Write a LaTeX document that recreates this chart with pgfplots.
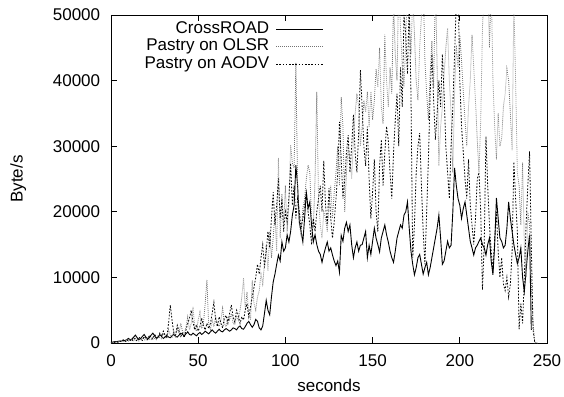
\documentclass[border=0pt]{standalone}
\usepackage{fontspec}
\setmainfont{Liberation Sans}
\usepackage{pgfplots}
\pgfplotsset{compat=1.18}
\pgfplotsset{mylegimg/.style={legend image code/.code={\draw[##1] (0pt,0pt) -- (47pt,0pt);}}}
\begin{document}
\fontsize{17}{20}\selectfont
\begin{tikzpicture}
\useasboundingbox (-111pt,-53pt) rectangle (453pt,343pt);
\begin{axis}[
  at={(0pt,0pt)}, anchor=south west,
  scale only axis, width=436pt, height=328pt,
  xmin=0, xmax=250, ymin=0, ymax=50000,
  xtick={0,50,...,250}, ytick={0,10000,...,50000},
  tick pos=both, tick align=inside, major tick length=6pt,
  axis line style={line width=0.9pt}, tick style={line width=0.9pt,black},
  /pgf/number format/assume math mode=true,
  /pgf/number format/1000 sep={},
  scaled y ticks=false,
  xticklabel style={yshift=-6pt},
  yticklabel style={xshift=-5pt},
  xlabel={seconds}, ylabel={Byte/s},
  xlabel style={at={(axis description cs:0.5,-0.128)}, anchor=center},
  ylabel style={at={(axis description cs:-0.213,0.5)}, anchor=center},
  legend plot pos=right, legend cell align=right,
  legend style={at={(axis description cs:0.495,0.99)}, anchor=north east, draw=none, fill=none,
    font=\fontsize{17}{20}\selectfont,
    nodes={inner sep=0.5pt, text height=12.5pt, text depth=4pt}, row sep=0pt, column sep=6pt},
]
\addplot[black, line width=0.9pt, mylegimg] table[row sep=\\] {t v\\
0 100\\1 150\\2 200\\3 200\\4 250\\5 300\\6 300\\7 350\\8 400\\9 500\\10 700\\11 500\\12 600\\13 900\\14 1200\\15 800\\16 500\\17 700\\18 1000\\19 1300\\
20 900\\21 600\\22 800\\23 1200\\24 1500\\25 1100\\26 700\\27 900\\28 1300\\29 1000\\30 700\\31 900\\32 1200\\33 900\\34 800\\35 1100\\36 1300\\37 1000\\38 900\\39 1200\\
40 1500\\41 1300\\42 1100\\43 1400\\44 1700\\45 1300\\46 1200\\47 1500\\48 1300\\49 1100\\50 1400\\51 1600\\52 1300\\53 1500\\54 1800\\55 1600\\56 1400\\57 1700\\58 2000\\59 1700\\
60 1500\\61 1800\\62 2100\\63 1800\\64 1700\\65 2000\\66 2200\\67 2000\\68 1800\\69 2000\\70 2300\\71 2200\\72 2000\\73 2400\\74 2600\\75 2200\\76 2100\\77 2500\\78 3000\\79 3300\\
80 2800\\81 2400\\82 2800\\83 3600\\84 3300\\85 2300\\86 2000\\87 2600\\88 4500\\89 6500\\90 5000\\91 4300\\92 7000\\93 9300\\94 10500\\95 12000\\96 13400\\97 12500\\98 15400\\99 14000\\
100 14500\\101 16500\\102 15400\\103 17000\\104 19500\\105 21000\\106 27100\\107 24000\\108 18400\\109 17000\\110 15400\\111 19000\\112 23000\\113 20500\\114 21500\\115 18000\\116 15400\\117 16500\\118 15000\\119 14000\\
120 13500\\121 12300\\122 13500\\123 14500\\124 15400\\125 14000\\126 14500\\127 13400\\128 12500\\129 11800\\130 12500\\131 10800\\132 16400\\133 15500\\134 17500\\135 18400\\136 17000\\137 18000\\138 15000\\139 13000\\
140 14500\\141 15400\\142 14000\\143 14900\\144 15000\\145 16000\\146 17000\\147 13000\\148 14900\\149 13500\\150 15500\\151 17500\\152 16000\\153 15000\\154 13900\\155 16000\\156 17000\\157 18000\\158 16500\\159 15400\\
160 14000\\161 13000\\162 12300\\163 14000\\164 16000\\165 17000\\166 18000\\167 17500\\168 19500\\169 20000\\170 21500\\171 17500\\172 14000\\173 12000\\174 10400\\175 11500\\176 13000\\177 13500\\178 12000\\179 10500\\
180 11500\\181 12300\\182 10400\\183 11500\\184 13000\\185 14500\\186 16000\\187 17500\\188 19500\\189 16000\\190 12000\\191 12500\\192 14000\\193 15500\\194 14500\\195 14900\\196 20000\\197 26700\\198 24000\\199 22000\\
200 21000\\201 19000\\202 20500\\203 21500\\204 19500\\205 17500\\206 15500\\207 14500\\208 13400\\209 14500\\210 14900\\211 15500\\212 16000\\213 15000\\214 14500\\215 13400\\216 15000\\217 16000\\218 12500\\219 10400\\
220 15000\\221 22100\\222 19000\\223 16000\\224 15500\\225 14500\\226 14900\\227 17500\\228 21500\\229 19000\\230 17000\\231 15000\\232 13500\\233 12100\\234 13000\\235 14500\\236 10000\\237 7800\\238 11000\\239 14000\\
240 16500\\241 2000\\
};
\addlegendentry{CrossROAD}
\addplot[black!55, line width=0.8pt, dash pattern=on 0.8pt off 1.2pt, mylegimg] table[row sep=\\] {t v\\
0 0\\1 100\\2 200\\3 100\\4 300\\5 200\\6 400\\7 300\\8 200\\9 500\\10 300\\11 600\\12 400\\13 300\\14 700\\15 500\\16 300\\17 600\\18 800\\19 500\\
20 400\\21 900\\22 600\\23 500\\24 1000\\25 700\\26 500\\27 1200\\28 800\\29 600\\30 1500\\31 900\\32 700\\33 2000\\34 1200\\35 900\\36 1800\\37 1000\\38 2200\\39 1500\\
40 3000\\41 1800\\42 1200\\43 2500\\44 4000\\45 2000\\46 3000\\47 5500\\48 2500\\49 1800\\50 3500\\51 4700\\52 2200\\53 3000\\54 6000\\55 9600\\56 3000\\57 2000\\58 3500\\59 2500\\
60 4000\\61 3000\\62 2500\\63 3500\\64 5300\\65 3000\\66 2500\\67 4000\\68 3500\\69 4500\\70 3000\\71 2800\\72 4200\\73 3500\\74 5000\\75 7000\\76 9900\\77 5000\\78 7800\\79 4500\\
80 3500\\81 9600\\82 6000\\83 5000\\84 7000\\85 8000\\86 10500\\87 9000\\88 12000\\89 15000\\90 11000\\91 17000\\92 13000\\93 16000\\94 20000\\95 14000\\96 28200\\97 16000\\98 22700\\99 18000\\
100 24000\\101 17000\\102 21000\\103 30200\\104 27400\\105 26700\\106 42700\\107 24000\\108 18000\\109 16500\\110 20500\\111 22000\\112 25000\\113 27100\\114 26000\\115 19000\\116 17500\\117 25000\\118 38300\\119 22000\\
120 18000\\121 16000\\122 20000\\123 19000\\124 17000\\125 21000\\126 24000\\127 19000\\128 23000\\129 26000\\130 30000\\131 24000\\132 37500\\133 33000\\134 20000\\135 26000\\136 30000\\137 28000\\138 25000\\139 31000\\
140 35000\\141 38000\\142 36000\\143 30000\\144 33000\\145 37000\\146 35200\\147 38300\\148 33000\\149 38300\\150 34000\\151 37000\\152 41800\\153 39000\\154 45000\\155 36000\\156 33400\\157 47000\\158 40000\\159 36000\\
160 42000\\161 38000\\162 52000\\163 44000\\164 40000\\165 55000\\166 48000\\167 42000\\168 39000\\169 46000\\170 55000\\171 49000\\172 44000\\173 53000\\174 47000\\175 40000\\176 37000\\177 45000\\178 50000\\179 55000\\
180 43000\\181 38000\\182 34000\\183 41000\\184 46000\\185 39000\\186 55000\\187 42000\\188 27000\\189 33000\\190 36000\\191 41000\\192 45000\\193 48000\\194 40000\\195 35000\\196 26000\\197 38000\\198 45400\\199 42000\\
200 47000\\201 43000\\202 38300\\203 34000\\204 30000\\205 36000\\206 40000\\207 47000\\208 42000\\209 36800\\210 31000\\211 26000\\212 34000\\213 48000\\214 55000\\215 52000\\216 55000\\217 45000\\218 55000\\219 40000\\
220 33000\\221 28000\\222 35000\\223 30000\\224 31200\\225 36000\\226 38000\\227 41800\\228 40000\\229 35000\\230 29400\\231 52000\\232 40000\\233 26000\\234 24000\\235 18000\\236 27500\\237 15000\\238 10000\\239 20000\\
240 18000\\241 9000\\242 3000\\243 0\\244 0\\245 0\\
};
\addlegendentry{Pastry on OLSR}
\addplot[black, line width=0.8pt, dash pattern=on 1.6pt off 1.6pt, mylegimg] table[row sep=\\] {t v\\
0 0\\1 0\\2 100\\3 200\\4 100\\5 300\\6 200\\7 500\\8 300\\9 200\\10 600\\11 400\\12 300\\13 800\\14 500\\15 300\\16 900\\17 600\\18 400\\19 1000\\
20 700\\21 500\\22 1200\\23 800\\24 600\\25 1300\\26 900\\27 700\\28 1500\\29 1000\\30 1800\\31 1200\\32 900\\33 3000\\34 5800\\35 3500\\36 1500\\37 1200\\38 2700\\39 1800\\
40 1000\\41 1500\\42 800\\43 2000\\44 3000\\45 3800\\46 5000\\47 3200\\48 2000\\49 2800\\50 1800\\51 2500\\52 3800\\53 2600\\54 2000\\55 3000\\56 2200\\57 3000\\58 4500\\59 6200\\
60 3500\\61 2500\\62 4000\\63 3000\\64 2300\\65 3800\\66 4200\\67 3000\\68 4500\\69 5800\\70 4000\\71 3200\\72 5000\\73 4300\\74 3000\\75 4000\\76 3500\\77 5000\\78 6000\\79 4000\\
80 5500\\81 7000\\82 8500\\83 10000\\84 12000\\85 10500\\86 13000\\87 15000\\88 11500\\89 14000\\90 17000\\91 14500\\92 19000\\93 23000\\94 18000\\95 21000\\96 25100\\97 19000\\98 22000\\99 17000\\
100 20000\\101 18500\\102 22000\\103 27400\\104 21000\\105 24000\\106 19000\\107 22000\\108 20000\\109 17500\\110 19000\\111 21000\\112 23000\\113 20000\\114 18000\\115 15000\\116 19000\\117 17000\\118 20000\\119 22000\\
120 24000\\121 20000\\122 27800\\123 21000\\124 18000\\125 23600\\126 19000\\127 16000\\128 18500\\129 22000\\130 26000\\131 33700\\132 28000\\133 22000\\134 25000\\135 29000\\136 31700\\137 26000\\138 30000\\139 34800\\
140 29000\\141 26000\\142 32000\\143 41600\\144 36000\\145 30000\\146 27000\\147 33000\\148 25000\\149 19000\\150 23000\\151 28000\\152 20000\\153 17000\\154 27000\\155 31000\\156 24000\\157 29000\\158 33000\\159 31000\\
160 26000\\161 22000\\162 29000\\163 34000\\164 38000\\165 30000\\166 42000\\167 36000\\168 50000\\169 47000\\170 41000\\171 52000\\172 38000\\173 13000\\174 18000\\175 26000\\176 30000\\177 32000\\178 24000\\179 17000\\
180 12000\\181 20000\\182 28000\\183 38000\\184 44000\\185 37000\\186 31000\\187 35000\\188 40000\\189 36000\\190 44000\\191 38000\\192 30000\\193 26000\\194 22000\\195 30000\\196 36000\\197 44000\\198 52000\\199 55000\\
200 40000\\201 33000\\202 29000\\203 25000\\204 22000\\205 28000\\206 21000\\207 18000\\208 15000\\209 19000\\210 25000\\211 26000\\212 20000\\213 8100\\214 15000\\215 31500\\216 24000\\217 18000\\218 14000\\219 11000\\
220 16000\\221 20000\\222 14000\\223 10000\\224 13000\\225 9000\\226 8000\\227 10000\\228 7000\\229 9000\\230 14000\\231 27600\\232 22000\\233 17000\\234 2100\\235 6000\\236 3000\\237 10000\\238 18000\\239 24000\\
240 29200\\241 15000\\242 2000\\243 0\\244 0\\
};
\addlegendentry{Pastry on AODV}
\end{axis}
\end{tikzpicture}
\end{document}
